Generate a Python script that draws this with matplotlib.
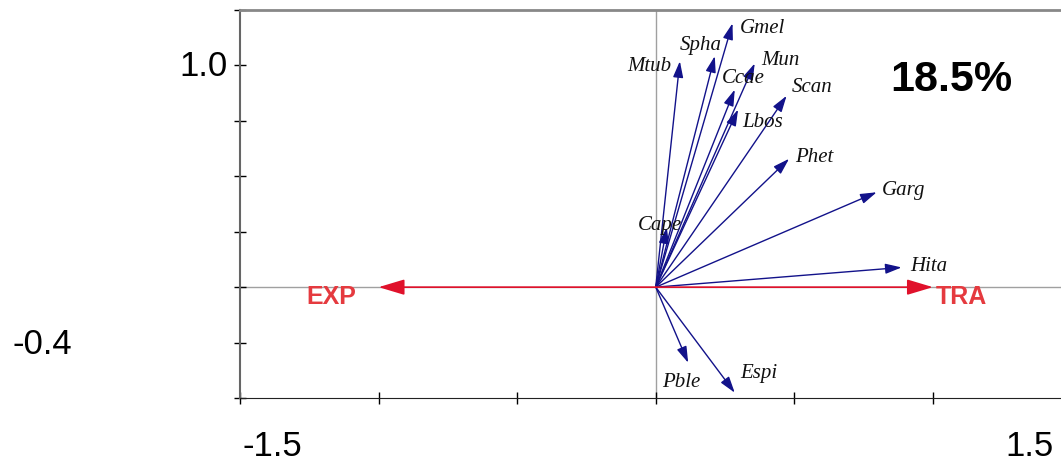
import matplotlib
matplotlib.use("Agg")
import matplotlib.pyplot as plt

# species scores (axis 1, axis 2)
species = ["Mtub", "Spha", "Gmel", "Mun", "Ccae", "Lbos", "Scan",
           "Phet", "Garg", "Hita", "Cape", "Pble", "Espi"]
sp_x = [0.087, 0.213, 0.277, 0.357, 0.285, 0.297, 0.472,
        0.481, 0.797, 0.887, 0.040, 0.117, 0.285]
sp_y = [1.019, 1.042, 1.190, 1.009, 0.891, 0.801, 0.863,
        0.579, 0.428, 0.089, 0.270, -0.341, -0.476]

# environmental variables
env = ["EXP", "TRA"]
env_x = [-1.0, 1.0]
env_y = [0.0, 0.0]

explained = "18.5%"

# label offsets in points from each arrow tip, with alignment
sp_offsets = {
    "Mtub": (-6, -4, "right"), "Spha": (-25, 8, "left"), "Gmel": (5, -4, "left"),
    "Mun": (5, 2, "left"), "Ccae": (-9, 8, "left"), "Lbos": (3, -9, "left"),
    "Scan": (4, 6, "left"), "Phet": (4, 1, "left"), "Garg": (4, 1, "left"),
    "Hita": (6, 1, "left"), "Cape": (-21, 1, "left"), "Pble": (-19, -14, "left"),
    "Espi": (4, 14, "left"),
}
env_offsets = {"EXP": (-52, -7, "left"), "TRA": (2, -7, "left")}

fig = plt.figure(figsize=(10.61, 4.62), dpi=100)
ax = fig.add_axes([0.2262, 0.1385, 0.7837, 0.8398])
ax.set_xlim(-1.5, 1.5)
ax.set_ylim(-0.5, 1.25)

ax.axhline(0, color="#a0a0a0", lw=1, zorder=1)
ax.axvline(0, color="#a0a0a0", lw=1, zorder=1)

for name, x, y in zip(species, sp_x, sp_y):
    ax.annotate("", xy=(x, y), xytext=(0, 0),
                arrowprops=dict(arrowstyle="-|>,head_length=0.7,head_width=0.22",
                                color="#12128a", lw=1, shrinkA=0, shrinkB=0,
                                mutation_scale=14))
    dx, dy, ha = sp_offsets[name]
    ax.annotate(name, xy=(x, y), xytext=(dx, dy), textcoords="offset points",
                ha=ha, va="center", fontsize=15, style="italic",
                family="Liberation Serif", color="#111111", zorder=4)

for name, x, y in zip(env, env_x, env_y):
    ax.annotate("", xy=(x, y), xytext=(0, 0),
                arrowprops=dict(arrowstyle="-|>,head_length=1.0,head_width=0.3",
                                color="#e0112b", lw=1.2, shrinkA=0, shrinkB=0,
                                mutation_scale=16), zorder=3)
    dx, dy, ha = env_offsets[name]
    ax.annotate(name, xy=(x, y), xytext=(dx, dy), textcoords="offset points",
                ha=ha, va="center", fontsize=18, fontweight="bold",
                family="Liberation Sans", color="#e53a3f")

ax.text(890 / 1061, 1 - 80 / 462, explained, transform=fig.transFigure,
        ha="left", va="center", fontsize=31, fontweight="bold",
        family="Liberation Sans")

# axis range labels
lab = dict(transform=fig.transFigure, fontsize=25, family="Liberation Sans")
fig.text(228 / 1061, 1 - 67 / 462, "1.0", ha="right", va="center", **lab)
fig.text(12 / 1061, 1 - 345 / 462, "-0.4", ha="left", va="center", **lab)
fig.text(243 / 1061, 1 - 447 / 462, "-1.5", ha="left", va="center", **lab)
fig.text(1005 / 1061, 1 - 447 / 462, "1.5", ha="left", va="center", **lab)

ax.set_xticks([-1.5, -1.0, -0.5, 0, 0.5, 1.0, 1.5])
ax.set_yticks([-0.5, -0.25, 0, 0.25, 0.5, 0.75, 1.0, 1.25])
ax.tick_params(direction="inout", length=8, width=1, labelbottom=False,
               labelleft=False)
ax.spines["top"].set_color("#888888")
ax.spines["top"].set_linewidth(2)
ax.spines["left"].set_color("#666666")
ax.spines["left"].set_linewidth(1.5)
ax.spines["bottom"].set_color("#222222")
ax.spines["right"].set_visible(False)

fig.savefig("out.png", dpi=100)
